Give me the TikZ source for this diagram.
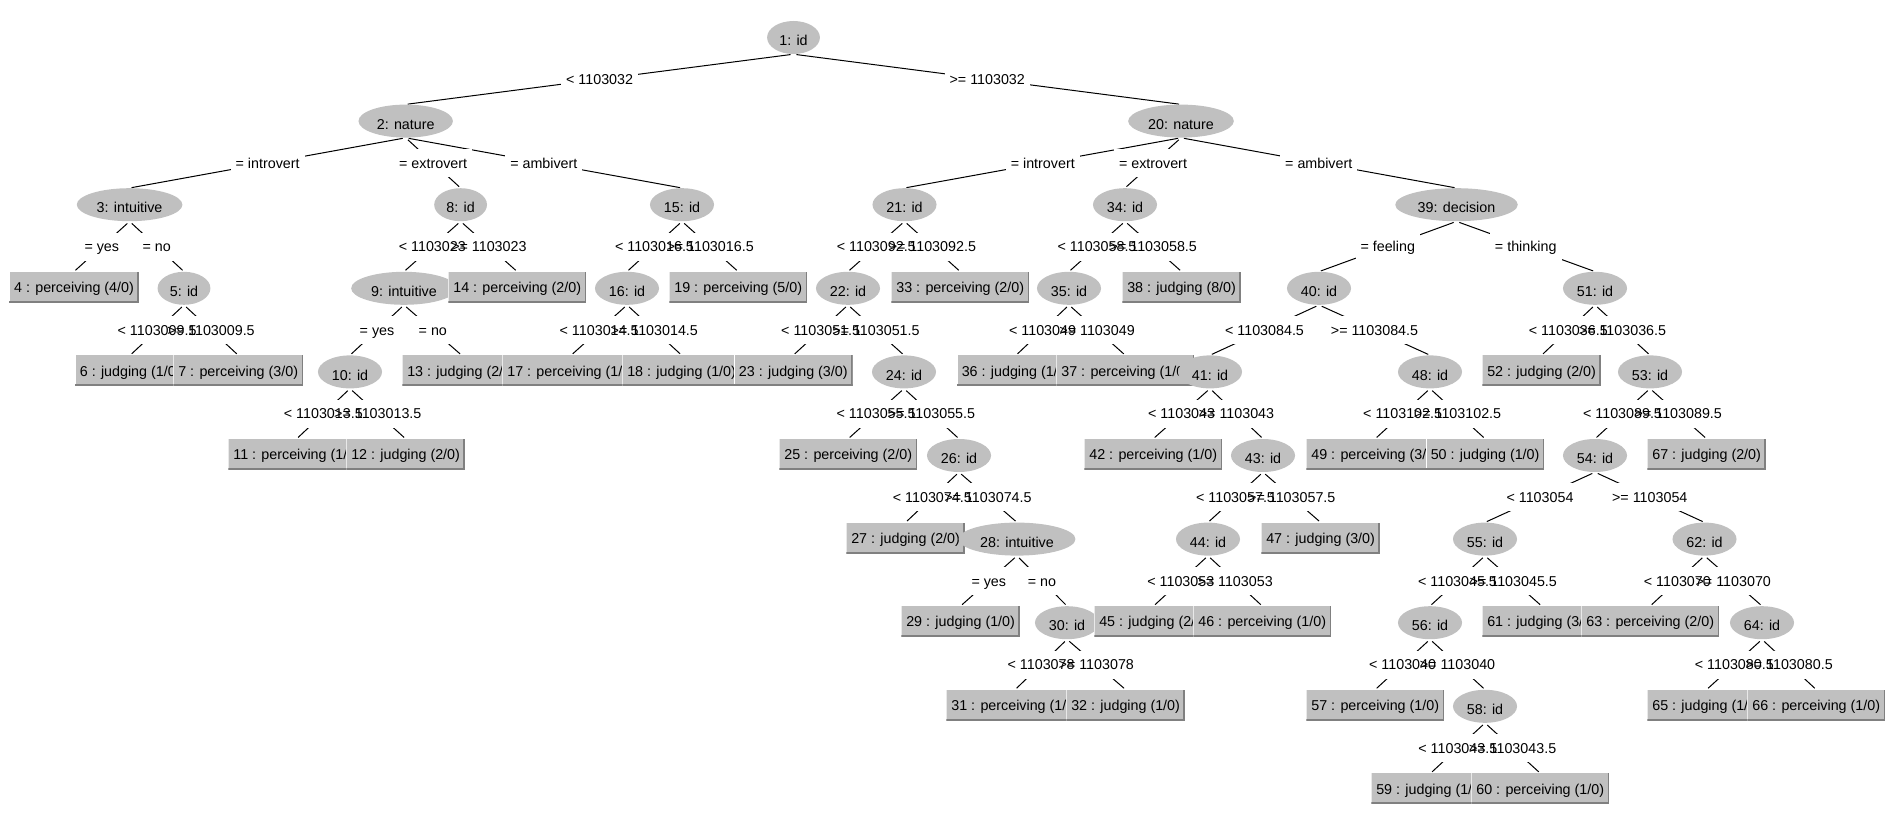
\documentclass[tikz,border=0pt]{standalone}
\usepackage{fontspec}
\setmainfont{Liberation Sans}
\usetikzlibrary{shapes.geometric}

\definecolor{nodegray}{RGB}{192,192,192}
\definecolor{shadegray}{RGB}{128,128,128}

\pgfdeclarelayer{edgelayer}
\pgfdeclarelayer{lbglayer}
\pgfdeclarelayer{ltxlayer}
\pgfsetlayers{edgelayer,lbglayer,ltxlayer,main}

\tikzset{
  every node/.style={font=\fontsize{14.3}{16}\selectfont},
  split/.style={ellipse, fill=nodegray, inner xsep=4.5pt, inner ysep=0pt,
    minimum height=33pt, text height=16.2pt, text depth=0pt},
  leaf/.style={rectangle, fill=nodegray, inner xsep=5pt, inner ysep=0pt,
    minimum height=31pt, text height=10.3pt, text depth=0pt,
    path picture={
      \fill[white] (path picture bounding box.south west)
        rectangle ([xshift=1pt]path picture bounding box.north west);
      \fill[shadegray] (path picture bounding box.south west)
        rectangle ([yshift=2pt]path picture bounding box.south east);
      \fill[shadegray] ([xshift=-1.5pt]path picture bounding box.south east)
        rectangle (path picture bounding box.north east);
    }},
  edgeline/.style={draw=black, line width=1pt, shorten <=3pt, shorten >=2pt},
  labelbg/.style={fill=white, inner xsep=5pt, inner ysep=0pt,
    minimum height=28pt, text height=10.3pt, text depth=0pt},
  labeltext/.style={inner xsep=5pt, inner ysep=0pt,
    text height=10.3pt, text depth=0pt}
}

% #1 number, #2 level, #3 x, #4 text
\newcommand\splitnode[4]{\node[split] (n#1) at (#3,{37.5+83.6*#2}) {#4};}
\newcommand\leafnode[4]{\node[leaf] (n#1) at (#3,{36.5+83.6*#2}) {#4};}
% #1 parent, #2 child, #3 test
\newcommand\treeedge[3]{%
  \begin{pgfonlayer}{edgelayer}
    \draw[edgeline] (n#1.south) -- (n#2.north);
  \end{pgfonlayer}
  \begin{pgfonlayer}{lbglayer}
    \path (n#1.south) -- node[labelbg] (b#2) {\phantom{#3}} (n#2.north);
  \end{pgfonlayer}
  \begin{pgfonlayer}{ltxlayer}
    \path (n#1.south) -- node[labeltext] (t#2) {#3} (n#2.north);
  \end{pgfonlayer}}

\begin{document}
\begin{tikzpicture}[x=1pt, y=-1pt]
\useasboundingbox (0,0) rectangle (1892,824);

\splitnode{1}{0}{793.5}{1: id}
\splitnode{2}{1}{405.7}{2: nature}
\splitnode{3}{2}{129.6}{3: intuitive}
\leafnode{4}{3}{74}{4 : perceiving (4/0)}
\splitnode{5}{3}{184}{5: id}
\leafnode{6}{4}{130.2}{6 : judging (1/0)}
\leafnode{7}{4}{238.2}{7 : perceiving (3/0)}
\splitnode{8}{2}{460.6}{8: id}
\splitnode{9}{3}{404}{9: intuitive}
\splitnode{10}{4}{350}{10: id}
\leafnode{11}{5}{296.7}{11 : perceiving (1/0)}
\leafnode{12}{5}{405.6}{12 : judging (2/0)}
\leafnode{13}{4}{461.6}{13 : judging (2/0)}
\leafnode{14}{3}{517.2}{14 : perceiving (2/0)}
\splitnode{15}{2}{682}{15: id}
\splitnode{16}{3}{627}{16: id}
\leafnode{17}{4}{571.2}{17 : perceiving (1/0)}
\leafnode{18}{4}{681.6}{18 : judging (1/0)}
\leafnode{19}{3}{738.2}{19 : perceiving (5/0)}
\splitnode{20}{1}{1181}{20: nature}
\splitnode{21}{2}{904.5}{21: id}
\splitnode{22}{3}{848}{22: id}
\leafnode{23}{4}{793.3}{23 : judging (3/0)}
\splitnode{24}{4}{904}{24: id}
\leafnode{25}{5}{848.2}{25 : perceiving (2/0)}
\splitnode{26}{5}{959}{26: id}
\leafnode{27}{6}{905.6}{27 : judging (2/0)}
\splitnode{28}{6}{1017}{28: intuitive}
\leafnode{29}{7}{960.6}{29 : judging (1/0)}
\splitnode{30}{7}{1067}{30: id}
\leafnode{31}{8}{1015.2}{31 : perceiving (1/0)}
\leafnode{32}{8}{1125.6}{32 : judging (1/0)}
\leafnode{33}{3}{960.2}{33 : perceiving (2/0)}
\splitnode{34}{2}{1125}{34: id}
\splitnode{35}{3}{1069}{35: id}
\leafnode{36}{4}{1016.1}{36 : judging (1/0)}
\leafnode{37}{4}{1125.2}{37 : perceiving (1/0)}
\leafnode{38}{3}{1181.6}{38 : judging (8/0)}
\splitnode{39}{2}{1456.5}{39: decision}
\splitnode{40}{3}{1319}{40: id}
\splitnode{41}{4}{1210}{41: id}
\leafnode{42}{5}{1153.2}{42 : perceiving (1/0)}
\splitnode{43}{5}{1263}{43: id}
\splitnode{44}{6}{1208}{44: id}
\leafnode{45}{7}{1153.6}{45 : judging (2/0)}
\leafnode{46}{7}{1262.2}{46 : perceiving (1/0)}
\leafnode{47}{6}{1320.6}{47 : judging (3/0)}
\splitnode{48}{4}{1430}{48: id}
\leafnode{49}{5}{1375.2}{49 : perceiving (3/0)}
\leafnode{50}{5}{1485.1}{50 : judging (1/0)}
\splitnode{51}{3}{1595}{51: id}
\leafnode{52}{4}{1541.6}{52 : judging (2/0)}
\splitnode{53}{4}{1650}{53: id}
\splitnode{54}{5}{1595}{54: id}
\splitnode{55}{6}{1485}{55: id}
\splitnode{56}{7}{1430}{56: id}
\leafnode{57}{8}{1375.2}{57 : perceiving (1/0)}
\splitnode{58}{8}{1485}{58: id}
\leafnode{59}{9}{1430.6}{59 : judging (1/0)}
\leafnode{60}{9}{1540.2}{60 : perceiving (1/0)}
\leafnode{61}{7}{1541.6}{61 : judging (3/0)}
\splitnode{62}{6}{1704.5}{62: id}
\leafnode{63}{7}{1650.2}{63 : perceiving (2/0)}
\splitnode{64}{7}{1762}{64: id}
\leafnode{65}{8}{1706.6}{65 : judging (1/0)}
\leafnode{66}{8}{1816.2}{66 : perceiving (1/0)}
\leafnode{67}{5}{1706.6}{67 : judging (2/0)}

\treeedge{1}{2}{< 1103032}
\treeedge{1}{20}{>= 1103032}
\treeedge{2}{3}{= introvert}
\treeedge{2}{8}{= extrovert}
\treeedge{2}{15}{= ambivert}
\treeedge{3}{4}{= yes}
\treeedge{3}{5}{= no}
\treeedge{5}{6}{< 1103009.5}
\treeedge{5}{7}{>= 1103009.5}
\treeedge{8}{9}{< 1103023}
\treeedge{8}{14}{>= 1103023}
\treeedge{9}{10}{= yes}
\treeedge{9}{13}{= no}
\treeedge{10}{11}{< 1103013.5}
\treeedge{10}{12}{>= 1103013.5}
\treeedge{15}{16}{< 1103016.5}
\treeedge{15}{19}{>= 1103016.5}
\treeedge{16}{17}{< 1103014.5}
\treeedge{16}{18}{>= 1103014.5}
\treeedge{20}{21}{= introvert}
\treeedge{20}{34}{= extrovert}
\treeedge{20}{39}{= ambivert}
\treeedge{21}{22}{< 1103092.5}
\treeedge{21}{33}{>= 1103092.5}
\treeedge{22}{23}{< 1103051.5}
\treeedge{22}{24}{>= 1103051.5}
\treeedge{24}{25}{< 1103055.5}
\treeedge{24}{26}{>= 1103055.5}
\treeedge{26}{27}{< 1103074.5}
\treeedge{26}{28}{>= 1103074.5}
\treeedge{28}{29}{= yes}
\treeedge{28}{30}{= no}
\treeedge{30}{31}{< 1103078}
\treeedge{30}{32}{>= 1103078}
\treeedge{34}{35}{< 1103058.5}
\treeedge{34}{38}{>= 1103058.5}
\treeedge{35}{36}{< 1103049}
\treeedge{35}{37}{>= 1103049}
\treeedge{39}{40}{= feeling}
\treeedge{39}{51}{= thinking}
\treeedge{40}{41}{< 1103084.5}
\treeedge{40}{48}{>= 1103084.5}
\treeedge{41}{42}{< 1103043}
\treeedge{41}{43}{>= 1103043}
\treeedge{43}{44}{< 1103057.5}
\treeedge{43}{47}{>= 1103057.5}
\treeedge{44}{45}{< 1103053}
\treeedge{44}{46}{>= 1103053}
\treeedge{48}{49}{< 1103102.5}
\treeedge{48}{50}{>= 1103102.5}
\treeedge{51}{52}{< 1103036.5}
\treeedge{51}{53}{>= 1103036.5}
\treeedge{53}{54}{< 1103089.5}
\treeedge{53}{67}{>= 1103089.5}
\treeedge{54}{55}{< 1103054}
\treeedge{54}{62}{>= 1103054}
\treeedge{55}{56}{< 1103045.5}
\treeedge{55}{61}{>= 1103045.5}
\treeedge{56}{57}{< 1103040}
\treeedge{56}{58}{>= 1103040}
\treeedge{58}{59}{< 1103043.5}
\treeedge{58}{60}{>= 1103043.5}
\treeedge{62}{63}{< 1103070}
\treeedge{62}{64}{>= 1103070}
\treeedge{64}{65}{< 1103080.5}
\treeedge{64}{66}{>= 1103080.5}
\end{tikzpicture}
\end{document}
